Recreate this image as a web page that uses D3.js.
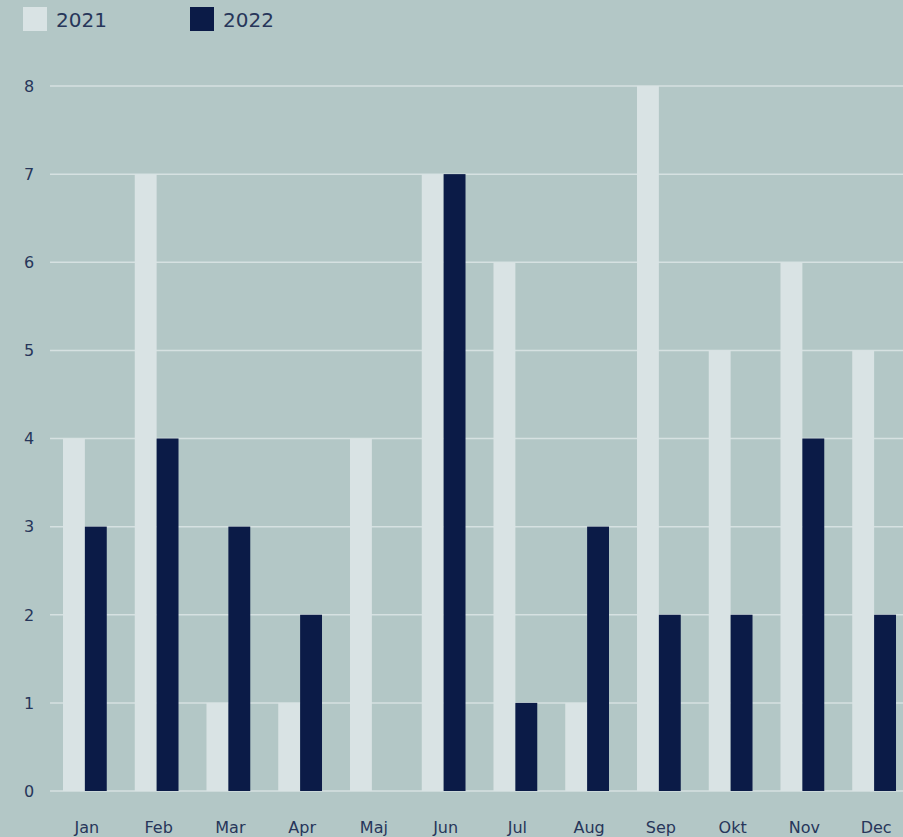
<!DOCTYPE html>
<html>
<head>
<meta charset="utf-8">
<script src="https://cdn.jsdelivr.net/npm/d3@7"></script>
<style>
  html, body { margin: 0; padding: 0; background: #b3c7c6; }
  svg { display: block; }
  text { font-family: "DejaVu Sans", sans-serif; fill: #27365a; }
</style>
</head>
<body>
<svg id="chart" width="903" height="837"></svg>
<script>
const months = ["Jan","Feb","Mar","Apr","Maj","Jun","Jul","Aug","Sep","Okt","Nov","Dec"];
const seriesNames = ["2021","2022"];
const values2021 = [4,7,1,1,4,7,6,1,8,5,6,5];
const values2022 = [3,4,3,2,0,7,1,3,2,2,4,2];
const yTicks = [0,1,2,3,4,5,6,7,8];
const colors = ["#d9e3e4", "#0b1b47"];

const W = 903, H = 837;
const svg = d3.select("#chart");
svg.append("rect").attr("width", W).attr("height", H).attr("fill", "#b3c7c6");

const y = d3.scaleLinear().domain([0, 8]).range([791, 86]);
const x = d3.scaleBand().domain(months).range([49, 910]).paddingInner(0.39).paddingOuter(0.195);
const xs = d3.scaleBand().domain(seriesNames).range([0, x.bandwidth()]);

// gridlines
svg.append("g").selectAll("line").data(yTicks).join("line")
  .attr("x1", 50).attr("x2", W)
  .attr("y1", d => y(d)).attr("y2", d => y(d))
  .attr("stroke", "#d6e1e1").attr("stroke-width", 1.5);

// y labels
svg.append("g").selectAll("text").data(yTicks).join("text")
  .attr("x", 29).attr("y", d => y(d)).attr("dy", "0.36em")
  .attr("text-anchor", "middle").attr("font-size", 16)
  .text(d => d);

const data = months.map((m, i) => ({ month: m, vals: [values2021[i], values2022[i]] }));

const groups = svg.append("g").selectAll("g").data(data).join("g")
  .attr("transform", d => `translate(${x(d.month)},0)`);
groups.selectAll("rect").data(d => d.vals.map((v, j) => ({ v, s: seriesNames[j], j })))
  .join("rect")
  .attr("x", d => xs(d.s))
  .attr("width", xs.bandwidth())
  .attr("y", d => y(d.v))
  .attr("height", d => y(0) - y(d.v))
  .attr("fill", d => colors[d.j]);

// x labels
svg.append("g").selectAll("text").data(months).join("text")
  .attr("x", d => x(d) + x.bandwidth() / 2 + 2)
  .attr("y", 833)
  .attr("text-anchor", "middle").attr("font-size", 16)
  .text(d => d);

// legend
const leg = svg.append("g").selectAll("g").data(seriesNames).join("g")
  .attr("transform", (d, i) => `translate(${23 + i * 167},7)`);
leg.append("rect").attr("width", 24).attr("height", 24).attr("fill", (d, i) => colors[i]);
leg.append("text").attr("x", 33).attr("y", 20).attr("font-size", 20).text(d => d);
</script>
</body>
</html>
